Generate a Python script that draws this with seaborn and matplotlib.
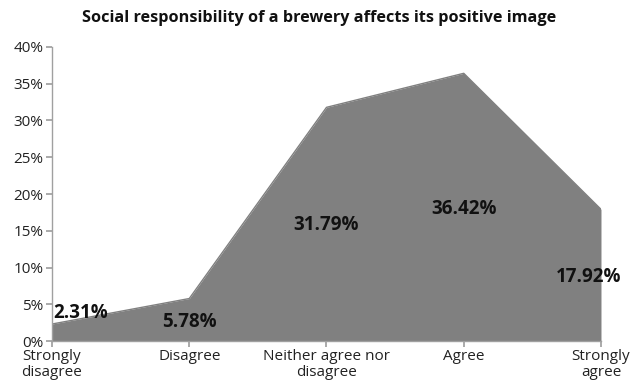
import matplotlib
matplotlib.use('Agg')
import matplotlib.pyplot as plt
from matplotlib.ticker import PercentFormatter
import numpy as np
import pandas as pd
import seaborn as sns

categories = ["Strongly\ndisagree", "Disagree", "Neither agree nor\ndisagree", "Agree", "Strongly\nagree"]
values = [2.31, 5.78, 31.79, 36.42, 17.92]
labels = ["2.31%", "5.78%", "31.79%", "36.42%", "17.92%"]

sns.set_theme(style="white")
plt.rcParams['font.family'] = ['Open Sans', 'DejaVu Sans']

df = pd.DataFrame({"pos": np.arange(len(categories)), "value": values})

fig = plt.figure(figsize=(6.39, 3.88), dpi=100)
ax = fig.add_axes([0.0814, 0.1211, 0.8591, 0.7578])

# area fill + outline
ax.fill_between(df["pos"], 0, df["value"], color="#808080", linewidth=0)
sns.lineplot(data=df, x="pos", y="value", ax=ax, color="#808080", linewidth=1)

ax.set_xlim(0, len(categories) - 1)
ax.set_ylim(0, 40)
ax.set_yticks(np.arange(0, 41, 5))
ax.yaxis.set_major_formatter(PercentFormatter(decimals=0))
ax.set_xticks(df["pos"])
ax.set_xticklabels(categories, fontsize=11, color="#222222", linespacing=1.1)
ax.tick_params(axis="y", labelsize=11, colors="#222222", length=4, color="#a0a0a0",
               direction="out", left=True, pad=2)
ax.tick_params(axis="x", length=4, color="#a0a0a0", direction="out", bottom=True, pad=2)
ax.set_xlabel("")
ax.set_ylabel("")

for side in ["top", "right"]:
    ax.spines[side].set_visible(False)
for side in ["left", "bottom"]:
    ax.spines[side].set_color("#a0a0a0")
    ax.spines[side].set_linewidth(1)

# data labels (Excel-style placement inside the area)
label_x = [0.21, 1.0, 2.0, 3.0, 3.91]
label_y = [3.8, 2.6, 15.8, 18.0, 8.7]
for lx, ly, txt in zip(label_x, label_y, labels):
    ax.text(lx, ly, txt, ha="center", va="center", fontsize=13.5,
            fontweight="bold", color="#111111")

fig.suptitle("Social responsibility of a brewery affects its positive image",
             x=0.5, y=0.975, fontsize=11.7, fontweight="bold", color="#111111")

plt.savefig("out.png", dpi=100)
plt.close()
